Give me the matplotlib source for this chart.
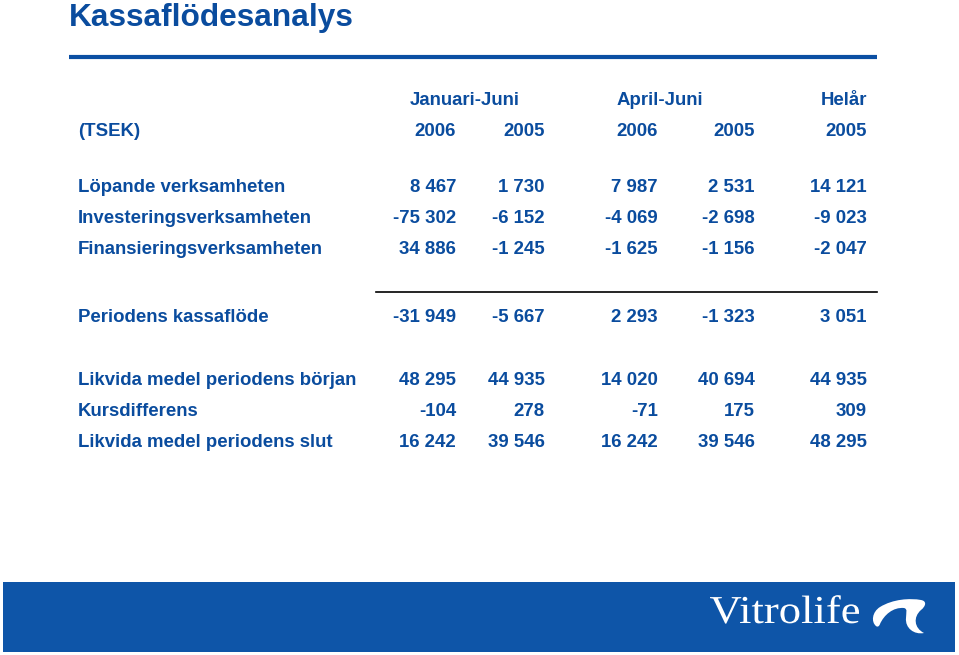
import matplotlib.pyplot as plt
from matplotlib.patches import Rectangle, PathPatch
from matplotlib.path import Path
from matplotlib.textpath import TextPath
from matplotlib.font_manager import FontProperties
from matplotlib.transforms import Affine2D

plt.rcParams['font.family'] = ['Liberation Sans', 'DejaVu Sans']

BLUE = '#0b4fa3'
TEXT = '#0a4c9e'

# Table data
title = "Kassaflödesanalys"
periods = ["Januari-Juni", "April-Juni", "Helår"]
years = ["2006", "2005", "2006", "2005", "2005"]
unit = "(TSEK)"

rows_top = ["Löpande verksamheten", "Investeringsverksamheten", "Finansieringsverksamheten"]
vals_top = [
    ["8 467", "1 730", "7 987", "2 531", "14 121"],
    ["-75 302", "-6 152", "-4 069", "-2 698", "-9 023"],
    ["34 886", "-1 245", "-1 625", "-1 156", "-2 047"],
]

row_mid = "Periodens kassaflöde"
vals_mid = ["-31 949", "-5 667", "2 293", "-1 323", "3 051"]

rows_bottom = ["Likvida medel periodens början", "Kursdifferens", "Likvida medel periodens slut"]
vals_bottom = [
    ["48 295", "44 935", "14 020", "40 694", "44 935"],
    ["-104", "278", "-71", "175", "309"],
    ["16 242", "39 546", "16 242", "39 546", "48 295"],
]

fig = plt.figure(figsize=(9.59, 6.55), dpi=100)
ax = fig.add_axes([0, 0, 1, 1])
ax.set_xlim(0, 959)
ax.set_ylim(655, 0)
ax.axis('off')

# column right edges and label x
col_x = [456, 545, 658, 755, 867]
label_x = 78
fs = 13.4

ax.text(69, 26, title, fontsize=22.8, fontweight='bold', color=TEXT, va='baseline', ha='left')
ax.plot([69, 877], [57, 57], color=BLUE, lw=3, solid_capstyle='butt')

# period headers
ax.text(465, 105, periods[0], fontsize=fs, fontweight='bold', color=TEXT, ha='center', va='baseline')
ax.text(660, 105, periods[1], fontsize=fs, fontweight='bold', color=TEXT, ha='center', va='baseline')
ax.text(col_x[4], 105, periods[2], fontsize=fs, fontweight='bold', color=TEXT, ha='right', va='baseline')

ax.text(label_x, 136, unit, fontsize=fs, fontweight='bold', color=TEXT, ha='left', va='baseline')
for x, y in zip(col_x, years):
    ax.text(x, 136, y, fontsize=fs, fontweight='bold', color=TEXT, ha='right', va='baseline')


def draw_row(y, label, vals):
    ax.text(label_x, y, label, fontsize=fs, fontweight='bold', color=TEXT, ha='left', va='baseline')
    for x, v in zip(col_x, vals):
        ax.text(x, y, v, fontsize=fs, fontweight='bold', color=TEXT, ha='right', va='baseline')


for y, lab, vals in zip([192, 223, 254], rows_top, vals_top):
    draw_row(y, lab, vals)

ax.plot([376, 877], [292, 292], color='black', lw=1.2)
draw_row(322, row_mid, vals_mid)

for y, lab, vals in zip([385, 416, 447], rows_bottom, vals_bottom):
    draw_row(y, lab, vals)

# footer band with logo
ax.add_patch(Rectangle((3, 582), 952, 70, color='#0e55a8', lw=0))

serif = FontProperties(family='Liberation Serif')
tp = TextPath((0, 0), "Vitrolife", size=10, prop=serif)
bb = tp.get_extents()
cap = TextPath((0, 0), "V", size=10, prop=serif).get_extents().height
sx = 149 / bb.width
sy = 26.5 / cap
tr = Affine2D().translate(-bb.x0, 0).scale(sx, -sy).translate(710, 623)
ax.add_patch(PathPatch(tr.transform_path(tp), facecolor='white', edgecolor='none'))

verts = [(876, 626),
         (871, 622), (872, 612), (880, 607),
         (893, 599), (910, 598), (921, 600),
         (927, 601), (926, 606), (921, 610),
         (913, 617), (914, 628), (924, 633),
         (914, 635), (905, 628), (906, 618),
         (906, 613), (908, 609), (904, 608),
         (893, 607), (884, 615), (880, 624),
         (879, 627), (877, 627), (876, 626),
         (876, 626)]
codes = [Path.MOVETO] + [Path.CURVE4] * 24 + [Path.CLOSEPOLY]
ax.add_patch(PathPatch(Path(verts, codes), facecolor='white', edgecolor='none'))

fig.savefig('out.png', dpi=100)
